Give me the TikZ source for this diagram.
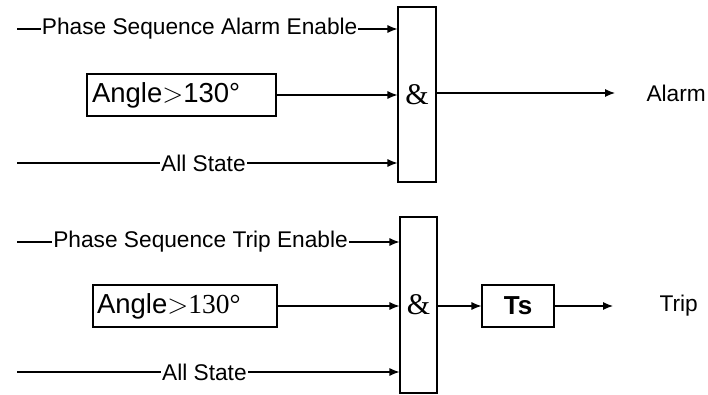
\RequirePackage{fix-cm}
\documentclass[tikz,border=0pt]{standalone}
\usepackage{fontspec}
\setmainfont{Liberation Sans}
\newfontfamily\timesfont{Liberation Serif}
\usetikzlibrary{arrows.meta}
\tikzset{>={Latex[length=10pt,width=8pt]}}

\begin{document}
\begin{tikzpicture}[x=1pt,y=1pt,line width=1.1pt,
  gate/.style={draw,minimum width=38pt,minimum height=175pt,inner sep=0pt,font=\timesfont\fontsize{30}{32}\selectfont},
  box/.style={draw,minimum height=42pt,inner sep=0pt,font=\fontsize{27.5}{29}\selectfont},
  lbl/.style={fill=white,inner sep=1pt,font=\fontsize{22.7}{24}\selectfont},
  outtxt/.style={anchor=west,inner sep=0pt,font=\fontsize{22.7}{24}\selectfont}]
\useasboundingbox (0,0) rectangle (708,394);
% alarm logic
\node[gate] (and1) at (417,299.5) {\&};
\node[box,inner xsep=5pt,text width=179pt,align=left] (ang1) at (181.5,299) {Angle$>$130°};
\coordinate (p1) at (17,365);
\coordinate (s1) at (17,231);
\draw[->] (p1) -- node[lbl,pos=0.48] {Phase Sequence Alarm Enable} (p1 -| and1.west);
\draw[->] (ang1.east) -- (ang1.east -| and1.west);
\draw[->] (s1) -- node[lbl,pos=0.49] {All State} (s1 -| and1.west);
\coordinate (alarm) at (615,301);
\draw[->] (and1.east |- alarm) -- (alarm);
\node[outtxt] (alarmtxt) at (646,301) {Alarm};
% trip logic
\node[gate,minimum width=37pt,minimum height=176pt] (and2) at (418.5,89) {\&};
\node[box,inner xsep=4pt,text width=176pt,align=left] (ang2) at (185,88) {Angle$>${\timesfont 130°}};
\node[box,minimum width=72pt,font=\bfseries\fontsize{26}{28}\selectfont] (ts) at (518,88) {Ts};
\coordinate (p2) at (17,152);
\coordinate (s2) at (17,22);
\draw[->] (p2) -- node[lbl,pos=0.48] {Phase Sequence Trip Enable} (p2 -| and2.west);
\draw[->] (ang2.east) -- (ang2.east -| and2.west);
\draw[->] (s2) -- node[lbl,pos=0.49] {All State} (s2 -| and2.west);
\draw[->] (and2.east |- ts.west) -- (ts.west);
\coordinate (trip) at (613,88);
\draw[->] (ts.east) -- (trip);
\node[outtxt] (triptxt) at (659,88) {Trip};
\end{tikzpicture}
\end{document}
